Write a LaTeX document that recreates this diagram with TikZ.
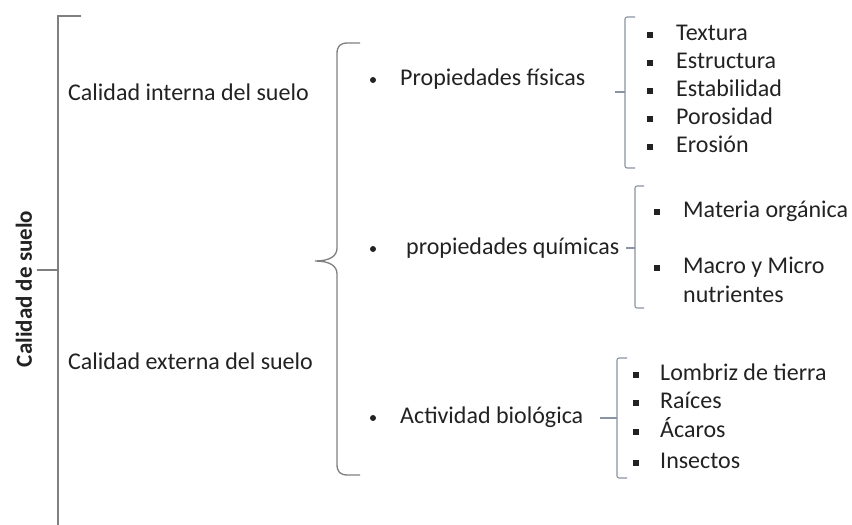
\documentclass[tikz,border=0pt]{standalone}
\usepackage{fontspec}
\setmainfont{Carlito}

\definecolor{brk}{HTML}{7F7F7F}
\definecolor{brkb}{HTML}{8A93A3}
\definecolor{txt}{HTML}{222222}

\tikzset{
  lbl/.style={anchor=west, inner sep=0pt, text=txt, text height=14pt, text depth=4pt,
    font=\fontsize{24}{28}\selectfont},
  rbul/.style={circle, fill=txt, inner sep=0pt, minimum size=6pt},
  sbul/.style={rectangle, fill=txt, inner sep=0pt, minimum size=6pt},
  brace/.style={brk, line width=1.3pt},
  sbrk/.style={brkb, line width=1.1pt, rounded corners=2pt}
}

\begin{document}
\begin{tikzpicture}[x=1pt, y=-1pt]
\useasboundingbox (0,0) rectangle (852,525);

% -------- Main bracket -----------
\node[rotate=90, inner sep=0pt, text=txt, font=\fontsize{23}{27}\selectfont\bfseries] (suelo) at (24,289) {Calidad de suelo};
\draw [brk, line width=1.7pt] (81,16) -- (58,16) -- (58,525);
\draw [brk, line width=1.7pt] (37,270) -- (58,270);

\node[lbl] (interna) at (68,95)  {Calidad interna del suelo};
\node[lbl] (externa) at (68,364) {Calidad externa del suelo};

% -------- Curly brace -----------
\draw [brace] (360,43) -- (348,43) .. controls (340,43) and (337,46) .. (337,54)
  -- (337,248) .. controls (337,256) and (330,261) .. (315,261)
  .. controls (330,261) and (337,266) .. (337,274)
  -- (337,464) .. controls (337,472) and (340,475) .. (348,475) -- (360,475);

\node[rbul] (pb1) at (373,80)  {};
\node[lbl]  (fis) at (400,80)  {Propiedades físicas};
\node[rbul] (pb2) at (373,249) {};
\node[lbl]  (qui) at (406,249) {propiedades químicas};
\node[rbul] (pb3) at (373,418) {};
\node[lbl]  (bio) at (400,418) {Actividad biológica};

% -------- Propiedades fisicas -----------
\draw [sbrk] (635,17) -- (625,17) -- (625,168) -- (635,168);
\draw [sbrk] (615,92) -- (625,92);
\foreach \t [count=\i] in {Textura,Estructura,Estabilidad,Porosidad,Erosión} {
  \node[sbul] (fb\i) at (650,7+28*\i) {};
  \node[lbl]  (f\i)  at (676,7+28*\i) {\t};
}

% -------- Propiedades quimicas -----------
\draw [sbrk] (644,186) -- (635,186) -- (635,308) -- (644,308);
\draw [sbrk] (626,248) -- (635,248);
\node[sbul] (qb1) at (657,212) {};
\node[lbl]  (q1)  at (683,212) {Materia orgánica};
\node[sbul] (qb2) at (657,268) {};
\node[lbl]  (q2)  at (683,268) {Macro y Micro};
\node[lbl]  (q3)  at (683,297) {nutrientes};

% -------- Actividad biologica -----------
\draw [sbrk] (627,358) -- (617,358) -- (617,478) -- (627,478);
\draw [sbrk] (600,418) -- (617,418);
\foreach \t/\y [count=\i] in {Lombriz de tierra/375,Raíces/403,Ácaros/432,Insectos/463} {
  \node[sbul] (bb\i) at (636,\y) {};
  \node[lbl]  (b\i)  at (660,\y) {\t};
}
\end{tikzpicture}
\end{document}
